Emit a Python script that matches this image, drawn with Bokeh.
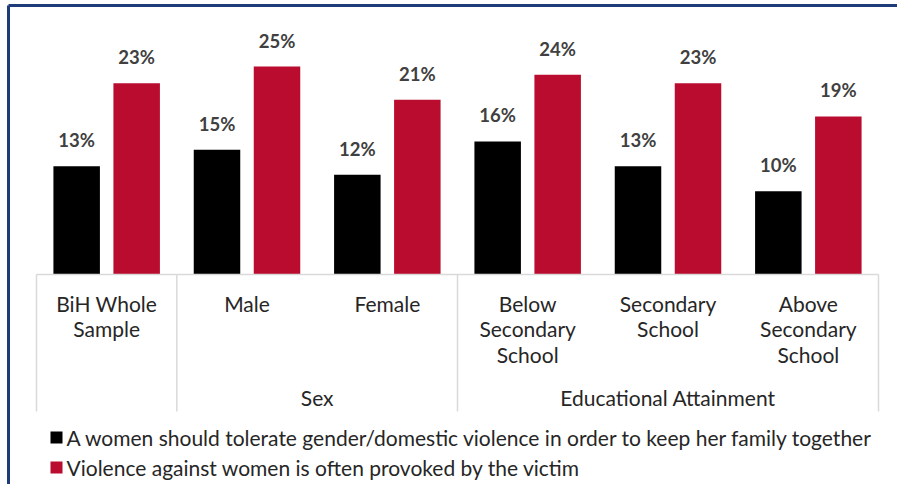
from bokeh.plotting import figure
from bokeh.models import Range1d
from bokeh.core.properties import value
from bokeh.embed import file_html
from bokeh.resources import INLINE

# ---- data ----
categories = ["BiH Whole\nSample", "Male", "Female", "Below\nSecondary\nSchool",
              "Secondary\nSchool", "Above\nSecondary\nSchool"]
tolerate = [13, 15, 12, 16, 13, 10]
provoked = [23, 25, 21, 24, 23, 19]
groups = ["Sex", "Educational Attainment"]
group_spans = [(1, 3), (3, 6)]          # category index spans of the groups
boundaries = [0, 1, 3, 6]               # separators between groups
series_names = [
    "A women should tolerate gender/domestic violence in order to keep her family together",
    "Violence against women is often provoked by the victim",
]
colors = ["#000000", "#BA0C2F"]

# ---- layout (pixel geometry -> data units) ----
W, H = 897, 484
PX_LEFT, PX_RIGHT = 36, 878     # plot area in pixels
PY_BASE = 274                   # baseline pixel row
PX_PER_PCT = 8.32
n = len(categories)
PX_PER_CAT = (PX_RIGHT - PX_LEFT) / n


def px2x(px):
    return (px - PX_LEFT) / PX_PER_CAT


def py2y(py):
    return (PY_BASE - py) / PX_PER_PCT


p = figure(width=W, height=H, output_backend="svg", toolbar_location=None,
           x_range=Range1d(px2x(0), px2x(W)), y_range=Range1d(py2y(H), py2y(0)),
           min_border=0, min_border_left=0, min_border_right=0,
           min_border_top=0, min_border_bottom=0)
p.axis.visible = False
p.grid.visible = False
p.outline_line_color = None
p.background_fill_color = "white"
p.border_fill_color = "white"

FONT = value("Lato")
offset = 30 / PX_PER_CAT
bw = 46.5 / PX_PER_CAT
centers = [i + 0.5 for i in range(n)]

for vals, col, sign in [(tolerate, colors[0], -1), (provoked, colors[1], 1)]:
    xs = [c + sign * offset for c in centers]
    p.vbar(x=xs, top=vals, width=bw, bottom=0, color=col, line_color=None)
    p.text(x=xs, y=[v + 15 / PX_PER_PCT for v in vals],
           text=[f"{v}%" for v in vals], text_align="center",
           text_baseline="bottom", text_font=FONT, text_font_style="bold",
           text_font_size="18.5px", text_color="#404040")

# axis line and separators
GRID = "#D9D9D9"
p.segment(x0=[0], y0=[0], x1=[n], y1=[0], line_color=GRID, line_width=1.5)
p.segment(x0=boundaries, y0=[0] * len(boundaries), x1=boundaries,
          y1=[py2y(411)] * len(boundaries), line_color=GRID, line_width=1.5)

# category labels
p.text(x=centers, y=[py2y(290)] * n, text=categories, text_align="center",
       text_baseline="top", text_font=FONT, text_font_size="21px",
       text_color="#262626", text_line_height=1.03)

# group labels
p.text(x=[(a + b) / 2 for a, b in group_spans], y=[py2y(397)] * len(groups),
       text=groups, text_align="center", text_baseline="middle",
       text_font=FONT, text_font_size="21px", text_color="#262626")

# legend
ly = [py2y(437), py2y(467)]
p.scatter(x=[px2x(56)] * 2, y=ly, marker="square", size=12,
          color=colors, line_color=None)
p.text(x=[px2x(66)] * 2, y=ly, text=series_names, text_align="left",
       text_baseline="middle", text_font=FONT, text_font_size="21px",
       text_color="#262626")

# outer frame (top and left edges visible)
NAVY = "#1F3C7A"
p.segment(x0=[px2x(8), px2x(8)], y0=[py2y(5), py2y(5)],
          x1=[px2x(W + 5), px2x(8)], y1=[py2y(5), py2y(H + 5)],
          line_color=NAVY, line_width=3)

open("out.html", "w").write(file_html(p, INLINE))
